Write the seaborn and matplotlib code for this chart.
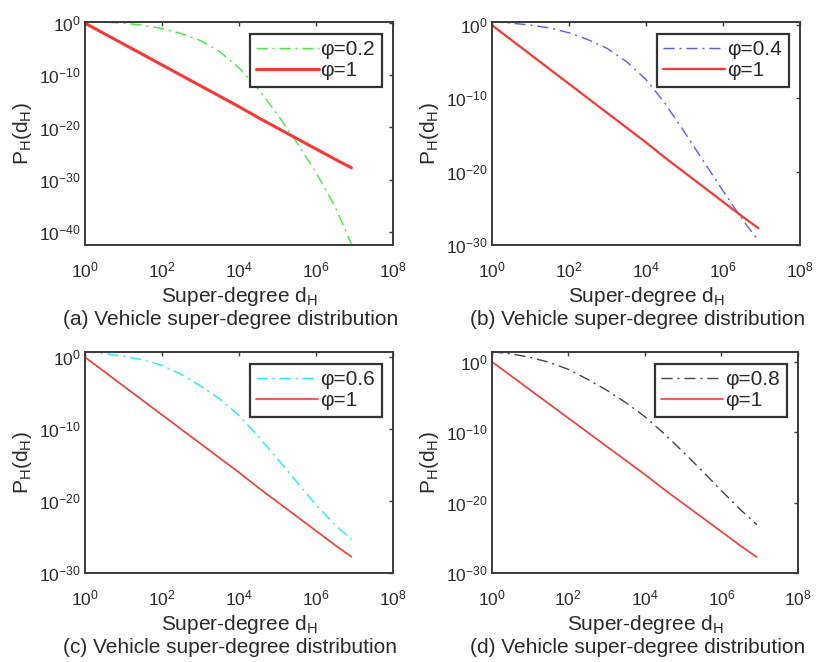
import numpy as np
import pandas as pd
import matplotlib
matplotlib.use("Agg")
import matplotlib.pyplot as plt
from matplotlib.ticker import NullLocator
import seaborn as sns

# log10 of the super-degree d_H at the points
x_exp = [0.0, 0.5, 1.0, 1.5, 2.0, 2.5, 3.0, 3.5, 4.0, 4.5, 5.0, 5.5, 6.0, 6.5, 6.92]

# log10 of P_H(d_H)
red_exp = [0.0, -2.0, -4.0, -6.0, -8.0, -10.0, -12.0, -14.0, -16.0, -18.1, -20.1, -22.1, -24.1, -26.1, -27.7]
green_exp = [0.2, 0.15, -0.03, -0.4, -1.05, -2.0, -3.35, -5.45, -8.55, -12.6, -17.48, -22.85, -28.6, -35.2, -42.3]
blue_exp = [0.45, 0.25, 0.0, -0.4, -1.05, -2.0, -3.2, -5.0, -7.4, -10.7, -14.6, -18.6, -22.6, -26.5, -29.4]
cyan_exp = [0.7, 0.5, 0.1, -0.4, -1.15, -2.4, -4.0, -5.8, -8.1, -11.0, -14.1, -17.3, -20.5, -23.3, -25.3]
black_exp = [1.4, 1.1, 0.6, -0.1, -1.1, -2.5, -4.05, -5.8, -7.8, -10.2, -12.8, -15.5, -18.3, -21.0, -23.1]

curves = [green_exp, blue_exp, cyan_exp, black_exp]
curve_labels = ['φ=0.2', 'φ=0.4', 'φ=0.6', 'φ=0.8']
red_label = 'φ=1'
captions = ['(a) Vehicle super-degree distribution', '(b) Vehicle super-degree distribution',
            '(c) Vehicle super-degree distribution', '(d) Vehicle super-degree distribution']
xtick_exp = [0, 2, 4, 6, 8]
ytick_exp = [[-40, -30, -20, -10, 0], [-30, -20, -10, 0], [-30, -20, -10, 0], [-30, -20, -10, 0]]

# styling
curve_colors = ['#3ded3d', '#5a5aff', '#1eeeee', '#454545']
red_color = '#ff3535'
red_widths = [2.2, 1.6, 1.2, 1.2]
ylims = [(-42.5, 0.25), (-30, 0.45), (-30, 0.73), (-30, 1.4)]
W, H = 819, 662
# axes boxes in pixels: left, top, right, bottom
boxes = [(84.7, 21.7, 393, 245), (491.7, 21.7, 800, 245),
         (84.7, 351.7, 393, 573.3), (491.7, 351.7, 798, 573.3)]

sns.set_style("white")
plt.rcParams['font.family'] = ['Liberation Sans', 'DejaVu Sans']
plt.rcParams['mathtext.default'] = 'regular'
text_color = '#2a2a2a'

fig = plt.figure(figsize=(W / 100, H / 100), dpi=100)
fig.patch.set_facecolor('white')

for i in range(4):
    l, t, r, b = boxes[i]
    ax = fig.add_axes([l / W, 1 - b / H, (r - l) / W, (b - t) / H])
    ax.set_facecolor('white')

    df = pd.DataFrame({'d': np.power(10.0, x_exp),
                       'p': np.power(10.0, curves[i]),
                       'p1': np.power(10.0, red_exp)})
    sns.lineplot(data=df, x='d', y='p', ax=ax, color=curve_colors[i], lw=1.0,
                 linestyle=(0, (8, 3.5, 1.5, 3.5)), label=curve_labels[i], sort=False)
    sns.lineplot(data=df, x='d', y='p1', ax=ax, color=red_color, lw=red_widths[i],
                 label=red_label, sort=False)

    ax.set_xscale('log')
    ax.set_yscale('log')
    ax.set_xlim(1, 1e8)
    ax.set_ylim(10.0 ** ylims[i][0], 10.0 ** ylims[i][1])
    ax.set_xticks([10.0 ** e for e in xtick_exp])
    ax.set_yticks([10.0 ** e for e in ytick_exp[i]])
    ax.xaxis.set_minor_locator(NullLocator())
    ax.yaxis.set_minor_locator(NullLocator())
    ax.set_xlabel('')
    ax.set_ylabel('')
    ax.tick_params(axis='both', which='both', direction='in', top=True, right=True,
                   length=3, width=1, colors='#3a3a3a', labelcolor=text_color, labelsize=12.5)
    ax.tick_params(axis='x', pad=11)
    ax.tick_params(axis='y', pad=3)
    for sp in ax.spines.values():
        sp.set_color('#3a3a3a')
        sp.set_linewidth(1.4)

    wpx, hpx = r - l, b - t
    leg = ax.legend(loc='upper right', bbox_to_anchor=(1 - 11.5 / wpx, 1 - 12.0 / hpx),
                    borderaxespad=0, fontsize=15, frameon=True, fancybox=False,
                    framealpha=1, edgecolor='#333333', handlelength=3.0,
                    handletextpad=0.1, labelspacing=0.12, borderpad=0.3)
    leg.get_frame().set_linewidth(1.6)
    for txt in leg.get_texts():
        txt.set_color(text_color)

    cx = (l + r) / 2
    fig.text(cx / W, 1 - (b + 56.5) / H, 'Super-degree d$_\\mathregular{H}$', ha='center',
             va='baseline', fontsize=15, color=text_color)
    fig.text((l - 22) / W, 1 - (b + 80) / H, captions[i], ha='left', va='baseline',
             fontsize=15, color=text_color)
    fig.text((l - 62) / W, 1 - ((t + b) / 2) / H, 'P$_\\mathregular{H}$(d$_\\mathregular{H}$)',
             rotation=90, ha='center', va='center', fontsize=15, color=text_color)

fig.savefig('out.png', dpi=100, facecolor='white')
